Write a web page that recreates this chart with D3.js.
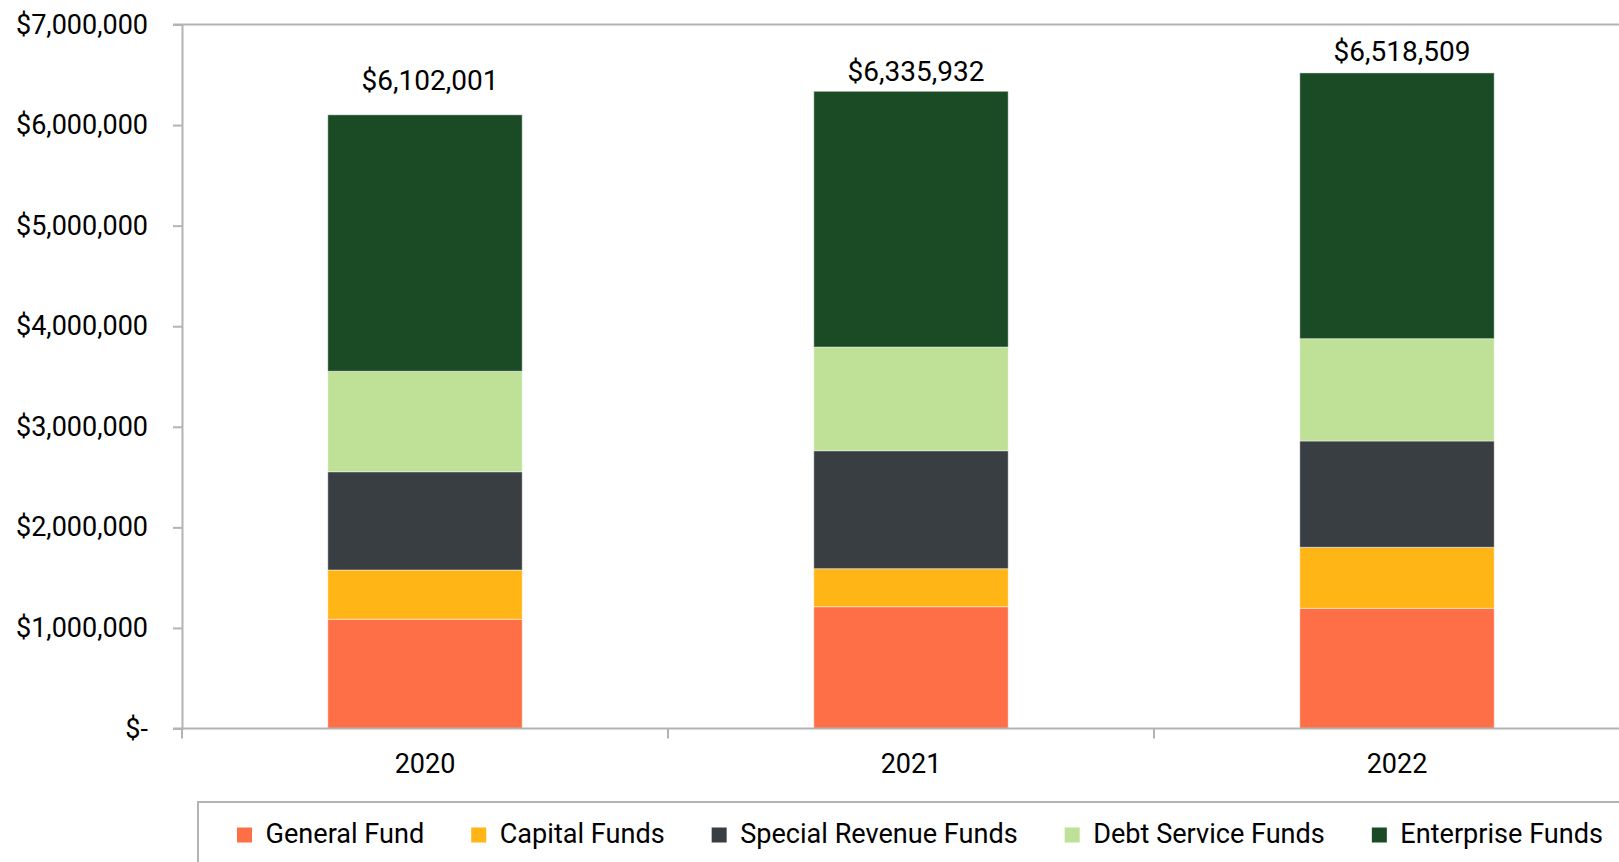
<!DOCTYPE html>
<html>
<head>
<meta charset="utf-8">
<script src="https://cdn.jsdelivr.net/npm/d3@7"></script>
<style>
  html, body { margin: 0; padding: 0; background: #fff; }
  svg { display: block; font-family: Roboto, "Noto Sans", sans-serif; }
</style>
</head>
<body>
<svg id="chart" width="1619" height="862"></svg>
<script>
// Fiscal years on the x axis
const years = ["2020", "2021", "2022"];

// Fund groups, stacked bottom to top
const seriesNames = ["General Fund", "Capital Funds", "Special Revenue Funds", "Debt Service Funds", "Enterprise Funds"];

// Amounts per fund group, one value per year
const generalFund        = [1086000, 1211000, 1195000];
const capitalFunds       = [490000, 378000, 607000];
const specialRevenue     = [977000, 1173000, 1057000];
const debtService        = [999000, 1031000, 1017000];
const enterpriseFunds    = [2550001, 2542932, 2642509];

// Y axis tick values
const yTicks = [0, 1000000, 2000000, 3000000, 4000000, 5000000, 6000000, 7000000];

const colors = ["#FF6F47", "#FFB515", "#393E42", "#BEE097", "#1B4B24"];

const svg = d3.select("#chart");
const W = 1619;

const rows = years.map((yr, i) => ({
  year: yr,
  "General Fund": generalFund[i],
  "Capital Funds": capitalFunds[i],
  "Special Revenue Funds": specialRevenue[i],
  "Debt Service Funds": debtService[i],
  "Enterprise Funds": enterpriseFunds[i]
}));

const stack = d3.stack().keys(seriesNames)(rows);

const plotLeft = 182;
const step = 486;
const x = d3.scaleBand()
  .domain(years)
  .range([plotLeft, plotLeft + step * years.length])
  .paddingInner(0.6)
  .paddingOuter(0.3);

const y = d3.scaleLinear()
  .domain([0, 7000000])
  .range([728.5, 24.5]);

const axisColor = "#b3b3b3";

// Top border line at the axis maximum
svg.append("line")
  .attr("x1", plotLeft - 9).attr("x2", W)
  .attr("y1", y(7000000)).attr("y2", y(7000000))
  .attr("stroke", axisColor).attr("stroke-width", 2);

// Y axis
const fmt = d3.format("$,");
const yAxis = d3.axisLeft(y)
  .tickValues(yTicks)
  .tickSize(9)
  .tickPadding(25)
  .tickFormat(d => d === 0 ? "$-" : fmt(d));

const gy = svg.append("g")
  .attr("transform", `translate(${plotLeft},0)`)
  .call(yAxis);
gy.select(".domain").attr("stroke", axisColor).attr("stroke-width", 2);
gy.selectAll(".tick line").attr("stroke", axisColor).attr("stroke-width", 2);
gy.selectAll(".tick text")
  .attr("fill", "#000")
  .style("font-size", "27px")
  .style("font-family", "Roboto, sans-serif");

// Stacked bars
svg.append("g")
  .selectAll("g")
  .data(stack)
  .join("g")
  .attr("fill", (d, i) => colors[i])
  .selectAll("rect")
  .data(d => d)
  .join("rect")
  .attr("x", d => x(d.data.year))
  .attr("width", x.bandwidth())
  .attr("y", d => y(d[1]))
  .attr("height", d => y(d[0]) - y(d[1]))
  .attr("stroke", "rgba(255,255,255,0.45)")
  .attr("stroke-width", 1);

// X axis line with category boundary ticks
const baseY = y(0);
svg.append("line")
  .attr("x1", plotLeft - 9).attr("x2", W)
  .attr("y1", baseY).attr("y2", baseY)
  .attr("stroke", axisColor).attr("stroke-width", 2);

const bounds = d3.range(years.length + 1).map(i => plotLeft + i * x.step());
svg.append("g")
  .selectAll("line")
  .data(bounds)
  .join("line")
  .attr("x1", d => d).attr("x2", d => d)
  .attr("y1", baseY).attr("y2", baseY + 10)
  .attr("stroke", axisColor).attr("stroke-width", 2);

svg.append("g")
  .selectAll("text")
  .data(years)
  .join("text")
  .attr("x", d => x(d) + x.bandwidth() / 2)
  .attr("y", 773)
  .attr("text-anchor", "middle")
  .style("font-size", "27px")
  .attr("fill", "#000")
  .text(d => d);

// Total labels above each stack
const totals = rows.map(r => d3.sum(seriesNames, k => r[k]));
const labelLift = [25, 10, 12];
svg.append("g")
  .selectAll("text")
  .data(years)
  .join("text")
  .attr("x", d => x(d) + x.bandwidth() / 2 + 5)
  .attr("y", (d, i) => y(totals[i]) - labelLift[i])
  .attr("text-anchor", "middle")
  .style("font-size", "28px")
  .attr("fill", "#000")
  .text((d, i) => fmt(totals[i]));

// Legend
const legendTop = 802;
svg.append("rect")
  .attr("x", 198).attr("y", legendTop)
  .attr("width", W).attr("height", 200)
  .attr("fill", "none")
  .attr("stroke", axisColor).attr("stroke-width", 2);

const legend = svg.append("g");
let lx = 237;
seriesNames.forEach((name, i) => {
  legend.append("rect")
    .attr("x", lx).attr("y", 827.5)
    .attr("width", 15).attr("height", 15)
    .attr("fill", colors[i]);
  const t = legend.append("text")
    .attr("x", lx + 28.5)
    .attr("y", 842.5)
    .style("font-size", "27.1px")
    .attr("fill", "#000")
    .text(name);
  lx = lx + 28.5 + t.node().getComputedTextLength() + 47;
});
</script>
</body>
</html>
